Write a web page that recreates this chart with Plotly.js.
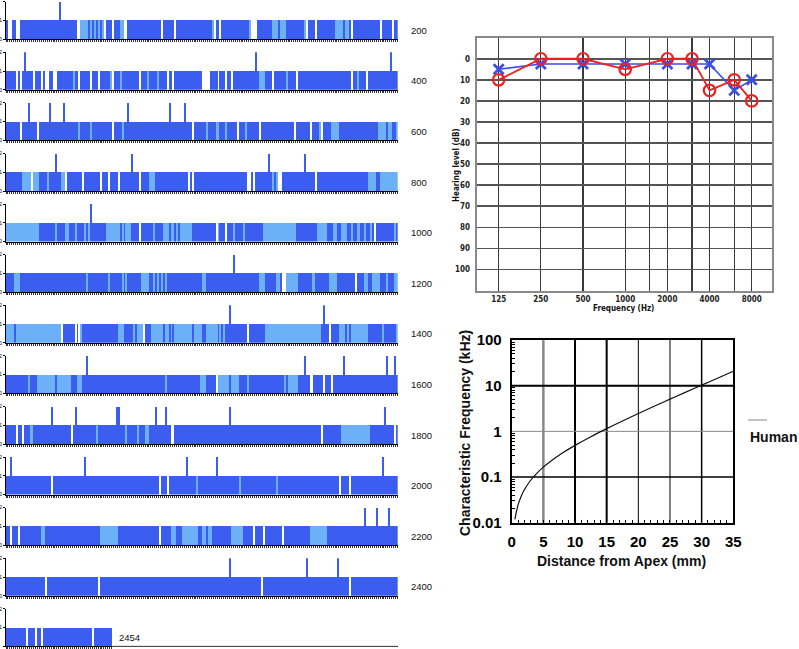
<!DOCTYPE html>
<html><head><meta charset="utf-8">
<script src="https://cdn.plot.ly/plotly-3.0.1.min.js"></script>
<style>html,body{margin:0;padding:0;background:#fff}#chart{width:799px;height:649px}</style>
</head><body><div id="chart"></div>
<script>
// ---------- Left panel: sequence tracks (200 positions per row) ----------
// run-length codes: D = dark class, L = light class, W = gap; number = positions
const rowLabels = ['200','400','600','800','1000','1200','1400','1600','1800','2000','2200','2400','2454'];
const row1  = "D1 W2 D2 W2 D29 W2 L4 D1 L1 D1 L1 D1 L1 D1 L1 W1 D3 W1 D3 L2 W2 D17 W1 D6 W1 D18 L1 W1 D2 W1 D14 L1 W3 D8 L3 D1 L3 D9 L1 W1 D4 W1 D9 L4 D1 L2 D1 W1 D14 W1 D5 W1 D2";
const row2  = "D5 W1 D1 W1 D6 W1 D3 W1 D1 W2 D2 W2 D8 L1 D2 W1 D5 W1 D3 W1 D5 L1 W1 D3 L1 D9 W1 D3 L1 D4 L1 D4 W1 D2 W1 D14 W4 D4 W1 D3 W1 D2 W1 D13 L3 D4 W1 D6 L1 D4 W1 D27 W1 D2 L1 D4 W1 D15";
const row3  = "D7 W1 D8 W1 D20 L1 D5 L1 D10 W1 D4 L1 D35 W1 D6 L1 D4 L2 D3 L1 D5 W1 D3 L1 D6 W1 D17 W1 D7 W1 D4 L1 W1 D4 L4 D20 L4 D1 L2 D2 L1";
const row4  = "D8 L5 W1 L3 D4 L1 D6 L2 W1 D8 W1 D8 W1 D3 W1 D4 W1 D10 W1 D4 L3 D17 W1 D1 W1 D27 W2 D1 W1 D9 L1 D1 L1 W2 D17 W1 D26 L4 D2 L9";
const row5  = "L17 D8 L1 D4 L2 D3 L1 D4 L1 D1 L1 D8 L7 D1 L1 D1 L3 D4 W1 D6 L1 D4 L3 D1 L2 D1 L1 D1 L6 D12 W1 L1 D3 W1 D3 L1 D4 L1 D9 L17 D11 L5 D3 L2 D2 L3 D2 L1 D2 L2 D2 L1 D2 L1 D1 W1 D9 L1 D1";
const row6  = "D4 L3 D34 L1 D10 L1 D6 L1 D1 L1 D7 L4 D2 L1 D1 L1 D1 L1 D1 L1 D18 L2 D27 L3 D6 L2 D1 W2 L6 D7 L2 D7 L4 D9 W1 D4 L2 D2 L4 D3 L1 D3 L2";
const row7  = "L4 D1 L23 W1 D6 W1 D1 W1 L1 D18 L3 D5 L1 D1 L3 W1 D3 L6 D1 L2 D1 L1 D1 L9 D1 L4 D2 L6 D1 L1 D1 L1 D11 W1 D8 L29 D4 W1 D4 L3 D1 L1 D1 L9 D7 L1 D6 L1";
const row8  = "D11 L1 D4 L9 D1 L7 D3 L3 D42 L1 D17 L3 D5 W1 L6 D1 L4 D4 L1 D18 L1 D1 L5 D6 W2 D5 W1 D3 W1 D33";
const row9  = "D5 W1 D2 W1 D3 L2 D19 W1 D12 L1 D14 L1 D5 L1 D3 L2 D11 W2 D75 W1 D9 L15 D12 W1 D1";
const row10 = "D23 W1 D54 W1 D3 W1 D14 L1 D21 L1 D18 L1 D31 W1 D4 W1 D24";
const row11 = "D2 W1 D3 W1 D11 L2 D28 L9 D21 W1 D5 L3 D3 L8 D2 L2 D1 L2 D10 L6 D5 W1 D4 W1 D9 W1 D13 L9 D36";
const row12 = "D20 W1 D26 W1 D82 W1 D44 W1 D24";
const row13 = "D10 W1 D4 W1 D2 W1 D25 W1 D9";
const rowRuns = [row1,row2,row3,row4,row5,row6,row7,row8,row9,row10,row11,row12,row13];
// positions (within row) that reach level 2
const rowSpikes = [[28],[10,128,197],[12,23,30,63,84,92],[26,65,135,153],[44],[117],[115,163],
                   [42,153,173,195,199],[24,36,57,58,77,82,115,194],[3,41,93,108,193],[184,190,196],[115,154,170],[]];

// ---------- Audiogram ----------
const audioFreq  = [125,250,500,1000,2000,3000,4000,6000,8000];
const rightEar   = [10,0,0,5,0,0,15,10,20];
const leftEar    = [5,2.5,2.5,2.5,2.5,2.5,2.5,15,10];
const audioGridFreq = [125,250,500,1000,1500,2000,3000,4000,6000,8000];
const audioTickText = ['125','250','500','1000','','2000','','4000','','8000'];
const hearingTicks  = [0,10,20,30,40,50,60,70,80,90,100];

// ---------- Cochlear frequency map ----------
const apexDistance = [0.5,1,1.5,2,3,4,5,6,8,10,12.5,15,17.5,20,22.5,25,27.5,30,32.5,35];
const charFreq     = [0.0118,0.0245,0.0381,0.0526,0.085,0.122,0.165,0.2135,0.334,0.493,0.765,1.148,1.69,2.456,3.54,5.065,7.22,10.27,14.58,20.66];
const cfTickVals = [0.01,0.1,1,10,100];
const cfTickText = ['0.01','0.1','1','10','100'];
const mmTicks = [0,5,10,15,20,25,30,35];

const W = 799, H = 649;
const DARK = '#3b5ef0', LIGHT = '#6cb0f8';
const FONT = 'Liberation Sans, Arial, sans-serif';
const NARROW = 'Liberation Sans Narrow, DejaVu Sans Condensed, Arial, sans-serif';
const px = v => v / W, py = v => 1 - v / H;

const data = [];
const layout = {
  width: W, height: H, margin: {l:0, r:0, t:0, b:0},
  paper_bgcolor: '#fff', plot_bgcolor: '#fff',
  showlegend: false, barmode: 'overlay', bargap: 0,
  font: {family: FONT, color: '#000'},
  annotations: [], shapes: []
};
function note(text, x, y, size, family, extra) {
  layout.annotations.push(Object.assign({text, xref:'paper', yref:'paper', x: px(x), y: py(y),
    xanchor:'center', yanchor:'middle', showarrow:false, font:{size, family, color:'#111'}}, extra || {}));
}

rowRuns.forEach((runs, k) => {
  const n = k + 1;
  const xa = n === 1 ? 'x' : 'x' + n, ya = n === 1 ? 'y' : 'y' + n;
  const xk = n === 1 ? 'xaxis' : 'xaxis' + n, yk = n === 1 ? 'yaxis' : 'yaxis' + n;
  const xs = [], ws = [], cs = [];
  let cur = 0.5, total = 0;
  runs.split(/\s+/).forEach(tok => {
    const t = tok[0], len = parseInt(tok.slice(1), 10);
    if (t !== 'W') { xs.push(cur + len / 2); ws.push(len); cs.push(t === 'D' ? DARK : LIGHT); }
    cur += len; total += len;
  });
  data.push({type:'bar', x: xs, y: xs.map(() => 1), width: ws, xaxis: xa, yaxis: ya,
    marker: {color: cs, line: {width: 0}}, hoverinfo: 'skip'});
  const sp = rowSpikes[k];
  if (sp.length) data.push({type:'bar', x: sp, y: sp.map(() => 1), base: 1, width: 1, xaxis: xa, yaxis: ya,
    marker: {color: DARK, line: {width: 0}}, hoverinfo: 'skip'});
  const top = 1.7 + 50.6 * k, hgt = 37.5;
  const tickv = []; for (let i = 0; i <= total; i++) tickv.push(0.5 + i);
  layout[xk] = {domain: [px(6), px(397.7)], range: [0.5, 200.5], anchor: ya, showgrid: false, zeroline: false,
    showline: true, linecolor: '#000', linewidth: 1, ticks: 'outside', ticklen: 2, tickwidth: 0.8, tickcolor: '#000',
    tickvals: tickv, showticklabels: false, fixedrange: true};
  layout[yk] = {domain: [py(top + hgt), py(top)], range: [0, 2], anchor: xa, showgrid: false, zeroline: false,
    showline: true, linecolor: '#000', linewidth: 1, ticks: 'outside', ticklen: 2, tickcolor: '#000',
    tickvals: [0,1,2], tickfont: {size: 5, family: FONT}, fixedrange: true};
  if (k === 12) {
    layout.shapes.push({type:'line', xref: xa, yref: ya, x0: total + 0.5, x1: 200.5, y0: 0, y1: 0,
      line: {color: '#999', width: 1.5}});
  }
  layout.annotations.push({text: rowLabels[k], xref: 'paper', yref: ya, x: px(k === 12 ? 117 : 409), y: 0.47,
    xanchor: 'left', yanchor: 'middle', showarrow: false, font: {size: 9.5, family: FONT, color: '#111'}});
});

// Audiogram (subplot 14)
data.push({type:'scatter', mode:'lines+markers', x: audioFreq, y: leftEar, xaxis:'x14', yaxis:'y14',
  line: {color: '#3b4ee6', width: 1.6}, marker: {symbol: 'x-thin-open', size: 10, line: {color: '#3b4ee6', width: 2.8}}});
data.push({type:'scatter', mode:'lines+markers', x: audioFreq, y: rightEar, xaxis:'x14', yaxis:'y14',
  line: {color: '#ee2020', width: 1.8}, marker: {symbol: 'circle-open', size: 11.5, color: '#ee2020', line: {color: '#ee2020', width: 2.2}}});
layout.xaxis14 = {domain: [px(476.7), px(772.3)], anchor: 'y14', type: 'log', range: [1.940, 4.050],
  tickvals: audioGridFreq, ticktext: audioTickText, showgrid: true, gridcolor: '#3a3a3a', gridwidth: 1.1,
  showline: true, mirror: true, linecolor: '#8a8a8a', linewidth: 2, ticks: '', zeroline: false,
  tickfont: {size: 8, family: NARROW, weight: 'bold', color: '#222'}, ticklabelstandoff: 0, fixedrange: true};
layout.yaxis14 = {domain: [py(290.5), py(37.7)], anchor: 'x14', range: [110, -10], tickvals: hearingTicks,
  showgrid: true, gridcolor: '#555', gridwidth: 1.5, showline: true, mirror: true, linecolor: '#8a8a8a', linewidth: 2,
  ticks: '', zeroline: false, tickfont: {size: 8, family: NARROW, weight: 'bold', color: '#222'}, ticklabelstandoff: 3, fixedrange: true};
note('<b>Hearing level (dB)</b>', 456, 165, 8, NARROW, {textangle: -90});
note('<b>Frequency (Hz)</b>', 623, 308.5, 8, NARROW);

// Cochlear map (subplot 15)
data.push({type:'scatter', mode:'lines', x: apexDistance, y: charFreq, xaxis:'x15', yaxis:'y15',
  line: {color: '#111', width: 1.2, shape: 'spline'}});
const minorY = [];
[0.01,0.1,1,10].forEach(d => { for (let m = 2; m <= 9; m++) minorY.push(d * m); });
layout.xaxis15 = {domain: [px(511.7), px(733.3)], anchor: 'y15', range: [0, 35], tickvals: mmTicks,
  showgrid: false, zeroline: false, showline: true, mirror: true, linecolor: '#000', linewidth: 2, ticks: '',
  minor: {ticks: 'inside', ticklen: 3, tickcolor: '#000', dtick: 1, showgrid: false},
  tickfont: {size: 15, family: FONT, weight: 'bold'}, ticklabelstandoff: 4, fixedrange: true};
layout.yaxis15 = {domain: [py(522.7), py(340)], anchor: 'x15', type: 'log', range: [-2, 2],
  tickvals: cfTickVals, ticktext: cfTickText, showgrid: false, zeroline: false, showline: true, mirror: true,
  linecolor: '#000', linewidth: 2, ticks: '',
  minor: {ticks: 'inside', ticklen: 3, tickcolor: '#000', tickvals: minorY, showgrid: false},
  tickfont: {size: 15, family: FONT, weight: 'bold'}, ticklabelstandoff: 5, fixedrange: true};
const vGrid = [[5,'#888',2.5],[10,'#000',2],[15,'#000',2],[20,'#000',1],[25,'#000',1],[30,'#000',1.5]];
vGrid.forEach(g => layout.shapes.push({type:'line', layer:'below', xref:'x15', yref:'y15 domain', x0:g[0], x1:g[0], y0:0, y1:1,
  line:{color:g[1], width:g[2]}}));
const hGrid = [[10,'#000',2],[1,'#888',1],[0.1,'#000',1.5]];
hGrid.forEach(g => { const f = (Math.log10(g[0]) + 2) / 4;
  layout.shapes.push({type:'line', layer:'below', xref:'x15 domain', yref:'y15 domain', x0:0, x1:1, y0:f, y1:f,
  line:{color:g[1], width:g[2]}}); });
note('<b>Characteristic Frequency (kHz)</b>', 465, 433, 14, FONT, {textangle: -90});
note('<b>Distance from Apex (mm)</b>', 621.7, 561, 14, FONT);
note('<b>Human</b>', 748, 437, 14, FONT, {xanchor: 'left'});
layout.shapes.push({type:'line', xref:'paper', yref:'paper', x0: px(748), x1: px(767), y0: py(420), y1: py(420),
  line: {color: '#888', width: 1}});

Plotly.newPlot('chart', data, layout, {staticPlot: true, displayModeBar: false});
</script></body></html>
